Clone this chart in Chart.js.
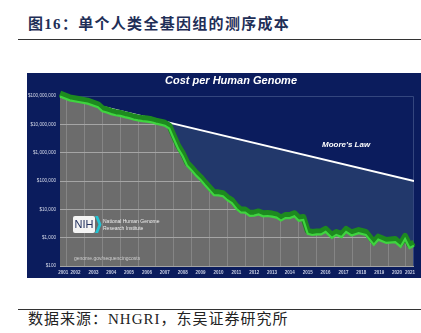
<!DOCTYPE html>
<html><head><meta charset="utf-8">
<script src="https://cdn.jsdelivr.net/npm/chart.js@4/dist/chart.umd.min.js"></script>
<style>
html,body{margin:0;padding:0;background:#fff;width:421px;height:333px;overflow:hidden;}
#title{position:absolute;left:28px;top:15px;font:bold 15px/18px "Liberation Serif","Noto Sans CJK SC";color:#1f2f57;letter-spacing:1.3px;white-space:nowrap;}
.rule{position:absolute;left:18px;width:403px;height:0;border-top:1.5px solid #333;}
#wrap{position:absolute;left:27px;top:73px;width:394px;height:205px;background:#0b1c5d;}
#src{position:absolute;left:28px;top:311px;font:15px/17px "Liberation Serif","Noto Sans CJK SC";color:#222;letter-spacing:1px;white-space:nowrap;}
</style></head>
<body>
<div id="title">图16：单个人类全基因组的测序成本</div>
<div class="rule" style="top:39px"></div>
<div id="wrap"><canvas id="c" width="394" height="205" style="width:394px;height:205px"></canvas></div>
<div class="rule" style="top:309px"></div>
<div id="src">数据来源：NHGRI，东吴证券研究所</div>
<script>
// ---- data ----
const costYears = [2001.63,2002.17,2002.67,2003.17,2003.75,2004.0,2004.25,2004.5,2004.75,2005.0,2005.25,2005.5,2005.75,2006.0,2006.25,2006.5,2006.75,2007.0,2007.25,2007.5,2007.75,2008.0,2008.25,2008.5,2008.75,2009.0,2009.25,2009.5,2009.75,2010.0,2010.25,2010.5,2010.75,2011.0,2011.25,2011.5,2011.75,2012.0,2012.25,2012.5,2012.75,2013.0,2013.25,2013.5,2013.75,2014.0,2014.25,2014.5,2014.75,2015.0,2015.25,2015.5,2015.75,2016.0,2016.25,2016.5,2016.85,2017.1,2017.4,2017.65,2017.95,2018.35,2018.75,2019.2,2019.45,2019.9,2020.4,2020.7,2020.95,2021.2,2021.45];
const costValues = [95263072,70175437,61448422,53751684,40157554,28780376,26200000,22960000,20963211,19900000,18000000,16500000,14800000,13800000,13000000,12500000,11800000,10600000,9800000,8900000,7147571,3063820,1352982,752080,342502,232735,154714,108065,70333,46774,31512,31125,29092,20963,16712,10497,7743,7666,5901,5985,6618,5671,5826,5550,5096,4008,4920,4905,5731,3970,4211,1363,1245,1300,1300,1600,980,1250,1050,1600,1200,1450,1250,560,850,650,700,480,900,430,520];
const mooreYears = [2001.63, 2021.45];
const mooreValues = [95263072, 100000];
const yTickValues = [100,1000,10000,100000,1000000,10000000,100000000];
const yearLabels = ['2001','2002','2003','2004','2005','2006','2007','2008','2009','2010','2011','2012','2013','2014','2015','2016','2017','2018','2019','2020','2021'];
const xMin = 2001.63, xMax = 2021.45;

// ---- derived tick structures ----
const gridYears = yearLabels.slice(1).map(Number);
const labelPos = yearLabels.map(l => { const y = +l; return (Math.max(y, xMin) + Math.min(y + 1, xMax)) / 2; });
const labelAt = new Map(labelPos.map((p, i) => [p.toFixed(3), yearLabels[i]]));
const xTicks = gridYears.concat(labelPos).sort((a, b) => a - b);

const costPts = costYears.map((x, i) => ({x, y: costValues[i]}));
const moorePts = mooreYears.map((x, i) => ({x, y: mooreValues[i]}));

const NAVY = '#0b1c5d', BLUE = '#22386b', GRAY = '#6c6c6c';

const deco = {
  id: 'deco',
  beforeDraw(chart) {
    const {ctx, chartArea: a} = chart;
    ctx.save(); ctx.fillStyle = GRAY; ctx.fillRect(a.left, a.top, a.right - a.left, a.bottom - a.top); ctx.restore();
  },
  beforeDatasetDraw(chart, args) {
    if (chart.data.datasets[args.index].label === 'band') { chart.ctx.save(); chart.ctx.translate(0, -3); }
  },
  afterDatasetDraw(chart, args) {
    const ds = chart.data.datasets[args.index];
    if (ds.label === 'band') chart.ctx.restore();
    if (ds.label === 'mooreFill') {
      const {ctx, chartArea: a} = chart;
      ctx.save(); ctx.strokeStyle = '#34467e'; ctx.lineWidth = 1;
      ctx.beginPath(); ctx.moveTo(a.left, a.top + 0.5); ctx.lineTo(a.right - 0.5, a.top + 0.5); ctx.lineTo(a.right - 0.5, a.bottom); ctx.stroke();
      ctx.restore();
    }
  },
  afterDatasetsDraw(chart) {
    const {ctx} = chart;
    ctx.save();
    ctx.fillStyle = '#ffffff';
    ctx.textBaseline = 'middle'; ctx.textAlign = 'center';
    ctx.font = 'italic bold 11px "Liberation Sans", Arial, sans-serif';
    ctx.fillText('Cost per Human Genome', 204, 8);
    ctx.textAlign = 'left';
    ctx.font = 'italic bold 8px "Liberation Sans", Arial, sans-serif';
    ctx.fillText("Moore's Law", 295, 72);
    // NIH logo
    ctx.fillStyle = '#f4f4f4';
    ctx.beginPath(); ctx.roundRect(46, 143, 22, 17, 2); ctx.fill();
    ctx.fillStyle = '#22305e'; ctx.textAlign = 'center';
    ctx.font = '11px "Liberation Sans", Arial, sans-serif';
    ctx.fillText('NIH', 57, 152);
    ctx.fillStyle = '#22c3d2';
    ctx.beginPath(); ctx.moveTo(68, 143); ctx.lineTo(71, 143); ctx.lineTo(74.5, 151.5); ctx.lineTo(71, 160); ctx.lineTo(68, 160); ctx.lineTo(71.5, 151.5); ctx.closePath(); ctx.fill();
    ctx.fillStyle = '#eeeeee'; ctx.textAlign = 'left';
    ctx.font = '5px "Liberation Sans", Arial, sans-serif';
    ctx.fillText('National Human Genome', 76, 149);
    ctx.fillText('Research Institute', 76, 156);
    ctx.fillStyle = '#cfcfcf';
    ctx.fillText('genome.gov/sequencingcosts', 47, 186);
    ctx.restore();
  }
};

new Chart(document.getElementById('c'), {
  type: 'line',
  data: {
    datasets: [
      {label: 'cost', data: costPts, borderColor: '#3fd43f', borderWidth: 2.2, fill: false, order: 0, clip: false},
      {label: 'band', data: costPts, borderColor: '#1d8a1f', borderWidth: 6, fill: false, order: 1, clip: false, borderJoinStyle: 'round'},
      {label: 'moore', data: moorePts, borderColor: '#ffffff', borderWidth: 1.8, fill: false, order: 2},
      {label: 'mooreFill', data: moorePts, borderColor: 'transparent', borderWidth: 0, backgroundColor: NAVY, fill: 'end', order: 3},
      {label: 'costFill', data: costPts, borderColor: 'transparent', borderWidth: 0, backgroundColor: BLUE, fill: 'end', order: 4}
    ]
  },
  options: {
    responsive: false, animation: false, devicePixelRatio: 1,
    layout: {padding: {top: 23, right: 7, left: 0, bottom: 0}},
    plugins: {legend: {display: false}, tooltip: {enabled: false}, title: {display: false}},
    elements: {point: {radius: 0}, line: {tension: 0}},
    scales: {
      x: {
        type: 'linear', min: xMin, max: xMax,
        afterBuildTicks: s => { s.ticks = xTicks.map(v => ({value: v})); },
        afterFit: s => { s.height = 12; },
        grid: {color: c => (c.tick && Number.isInteger(c.tick.value)) ? '#858585' : 'rgba(0,0,0,0)', lineWidth: 1, drawTicks: false},
        border: {display: false},
        ticks: {autoSkip: false, maxRotation: 0, minRotation: 0, padding: 4, color: '#c9cfe4',
          font: {size: 4.5, weight: 'bold', family: '"Liberation Sans", Arial, sans-serif'},
          callback: v => labelAt.get(Number(v).toFixed(3)) || ''}
      },
      y: {
        type: 'logarithmic', min: 100, max: 100000000,
        afterBuildTicks: s => { s.ticks = yTickValues.map(v => ({value: v})); },
        afterFit: s => { s.width = 33; },
        grid: {color: '#a5a5a5', lineWidth: 1, drawTicks: false},
        border: {display: false},
        ticks: {padding: 4, color: '#d8dcea',
          font: {size: 4.6, family: '"Liberation Sans", Arial, sans-serif'},
          callback: v => '$' + Number(v).toLocaleString('en-US')}
      }
    }
  },
  plugins: [deco]
});
</script>
</body></html>
